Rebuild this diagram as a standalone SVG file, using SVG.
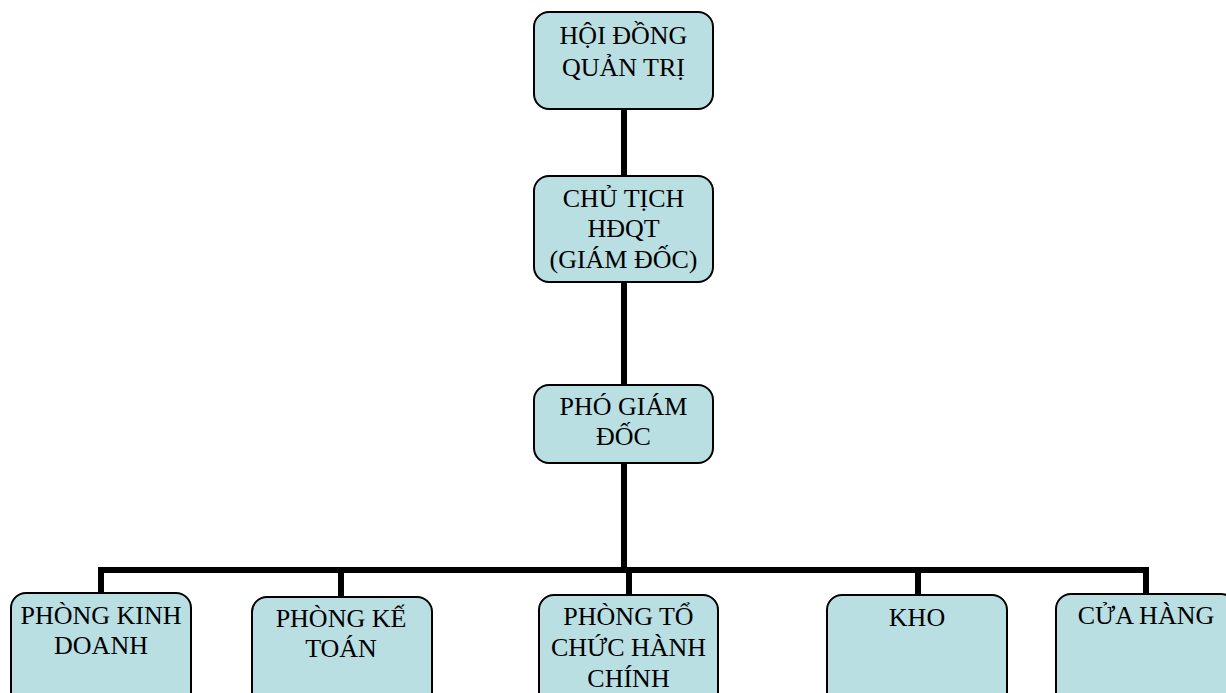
<svg xmlns="http://www.w3.org/2000/svg" width="1226" height="693" viewBox="0 0 1226 693">
<style>
.box{fill:#b9dfe3;stroke:#000;stroke-width:2}
.t{font-family:"Liberation Serif","Times New Roman",serif;font-size:26px;fill:#000;text-anchor:middle}
.c{stroke:#000;stroke-width:6;fill:none;stroke-linecap:square}
</style>
<rect width="1226" height="693" fill="#fff"/>
<g id="connectors">
<line class="c" x1="624" y1="110" x2="624" y2="175"/>
<line class="c" x1="624" y1="283" x2="624" y2="384"/>
<line class="c" x1="624" y1="464" x2="624" y2="570"/>
<line class="c" x1="101" y1="570" x2="1146" y2="570"/>
<line class="c" x1="101" y1="570" x2="101" y2="592"/>
<line class="c" x1="341" y1="570" x2="341" y2="595"/>
<line class="c" x1="629" y1="570" x2="629" y2="594"/>
<line class="c" x1="918" y1="570" x2="918" y2="594"/>
<line class="c" x1="1146" y1="570" x2="1146" y2="592"/>
</g>
<g id="hdqt">
<rect class="box" x="534" y="12" width="179" height="97" rx="15"/>
<text class="t" x="623.5" y="44">HỘI ĐỒNG</text>
<text class="t" x="623.5" y="76">QUẢN TRỊ</text>
</g>
<g id="chutich">
<rect class="box" x="534" y="176" width="179" height="106" rx="15"/>
<text class="t" x="623.5" y="207">CHỦ TỊCH</text>
<text class="t" x="623.5" y="237">HĐQT</text>
<text class="t" x="623.5" y="268">(GIÁM ĐỐC)</text>
</g>
<g id="phogiamdoc">
<rect class="box" x="534" y="385" width="179" height="78" rx="15"/>
<text class="t" x="623.5" y="415">PHÓ GIÁM</text>
<text class="t" x="623.5" y="445">ĐỐC</text>
</g>
<g id="kinhdoanh">
<rect class="box" x="11" y="593" width="180" height="115" rx="15"/>
<text class="t" x="101" y="624">PHÒNG KINH</text>
<text class="t" x="101" y="654">DOANH</text>
</g>
<g id="ketoan">
<rect class="box" x="252" y="597" width="180" height="115" rx="15"/>
<text class="t" x="341" y="627">PHÒNG KẾ</text>
<text class="t" x="341" y="657">TOÁN</text>
</g>
<g id="tochuc">
<rect class="box" x="539" y="595" width="179" height="115" rx="15"/>
<text class="t" x="628.5" y="625">PHÒNG TỔ</text>
<text class="t" x="628.5" y="656">CHỨC HÀNH</text>
<text class="t" x="628.5" y="687">CHÍNH</text>
</g>
<g id="kho">
<rect class="box" x="827" y="595" width="180" height="115" rx="15"/>
<text class="t" x="917" y="626">KHO</text>
</g>
<g id="cuahang">
<rect class="box" x="1056" y="594" width="180" height="115" rx="15"/>
<text class="t" x="1146" y="624">CỬA HÀNG</text>
</g>
</svg>
